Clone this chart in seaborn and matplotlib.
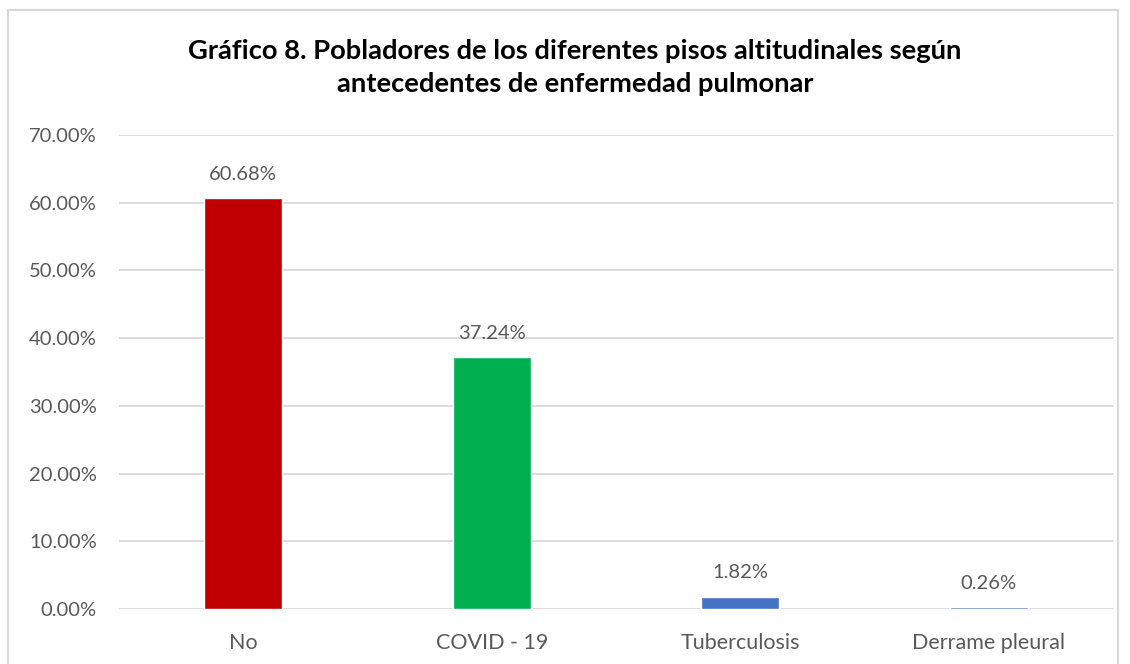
import matplotlib
matplotlib.use("Agg")
import matplotlib.pyplot as plt
import seaborn as sns
import pandas as pd
from matplotlib.patches import Rectangle
from matplotlib.ticker import FuncFormatter

# ── Data ──────────────────────────────────────────────────────────────────────
categories = ["No", "COVID - 19", "Tuberculosis", "Derrame pleural"]
percentages = [60.68, 37.24, 1.82, 0.26]
bar_colors = ["#C00000", "#00B050", "#4472C4", "#4472C4"]
title = ("Gráfico 8. Pobladores de los diferentes pisos altitudinales según\n"
         "antecedentes de enfermedad pulmonar")

df = pd.DataFrame({"categoria": categories, "porcentaje": percentages})

# ── Style ─────────────────────────────────────────────────────────────────────
sns.set_theme(style="white")
plt.rcParams["font.family"] = ["Lato", "DejaVu Sans"]
TEXT = "#595959"
GRID = "#D9D9D9"

fig = plt.figure(figsize=(11.3, 6.64), dpi=100)
ax = fig.add_axes([0.1053, 0.0828, 0.8797, 0.7139])

sns.barplot(data=df, x="categoria", y="porcentaje", hue="categoria",
            palette=bar_colors, width=0.314, legend=False, ax=ax, saturation=1)

ax.set_ylim(0, 70)
ax.set_xlim(-0.5, 3.5)
ax.set_yticks(range(0, 71, 10))
ax.yaxis.set_major_formatter(FuncFormatter(lambda v, _: f"{v:.2f}%"))
ax.grid(axis="y", color=GRID, lw=1.3)
ax.set_axisbelow(True)
for s in ax.spines.values():
    s.set_visible(False)
ax.tick_params(axis="y", length=0, labelsize=14.5, colors=TEXT, pad=16)
ax.tick_params(axis="x", length=0, labelsize=15.5, colors=TEXT, pad=17)
ax.set_xlabel("")
ax.set_ylabel("")

# value labels
for i, v in enumerate(percentages):
    ax.annotate(f"{v:.2f}%", (i, v), xytext=(0, 11), textcoords="offset points",
                ha="center", va="bottom", fontsize=14.5, color=TEXT)

fig.text(0.509, 0.898, title, ha="center", va="center", fontsize=19.7,
         fontweight="bold", color="black", linespacing=1.45)

# chart frame
fig.patches.append(Rectangle((8 / 1130, -0.05), 1110 / 1130, 1.05 - 10 / 664,
                             transform=fig.transFigure, fill=False,
                             edgecolor=GRID, lw=1.5))

fig.savefig("out.png", dpi=100)
